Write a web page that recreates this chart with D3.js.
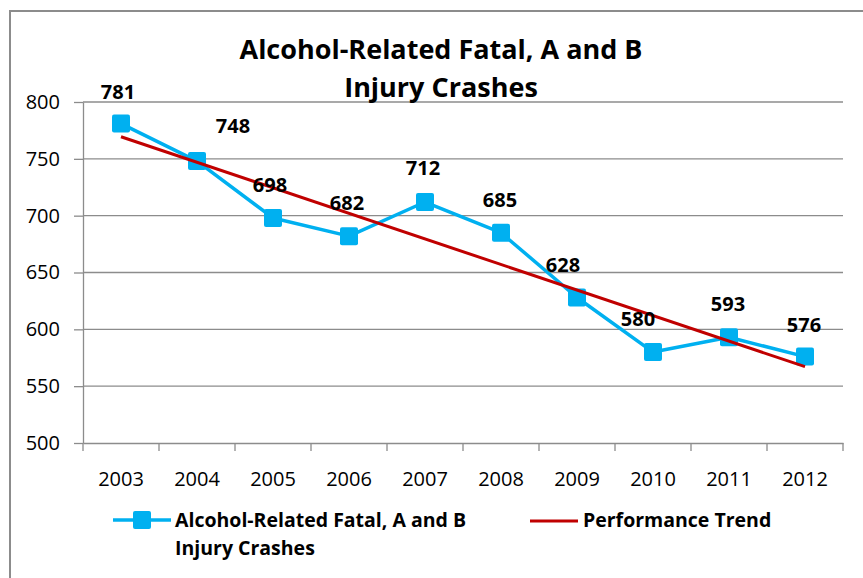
<!DOCTYPE html>
<html>
<head>
<meta charset="utf-8">
<script src="https://cdn.jsdelivr.net/npm/d3@7"></script>
<style>
  body { margin: 0; background: #fff; }
  svg { display: block; font-family: "Open Sans", "Liberation Sans", sans-serif; }
</style>
</head>
<body>
<svg id="grafico" width="863" height="578"></svg>
<script>
// dados
const anos = ['2003', '2004', '2005', '2006', '2007', '2008', '2009', '2010', '2011', '2012'];
const acidentes = [781, 748, 698, 682, 712, 685, 628, 580, 593, 576];
const yTicks = [500, 550, 600, 650, 700, 750, 800];
const tituloLinhas = ['Alcohol-Related Fatal, A and B', 'Injury Crashes'];
const nomeSerie = ['Alcohol-Related Fatal, A and B', 'Injury Crashes'];
const nomeTendencia = 'Performance Trend';
// deslocamento manual dos rótulos (como no Excel)
const rotuloDx = [-3, 36, -3, -2, -2, -1, -14, -15, -1, -1];
const rotuloDy = [-25, -28, -26, -26, -27, -26, -26, -26, -26, -25];

const azul = '#00B0F0', vermelho = '#C00000';
const svg = d3.select('#grafico');

// moldura do gráfico (continua além da imagem à direita/abaixo)
svg.append('rect')
  .attr('x', 10).attr('y', 11).attr('width', 900).attr('height', 600)
  .attr('fill', 'none').attr('stroke', '#8c8c8c').attr('stroke-width', 2);

const m = { left: 83, right: 843, top: 102, bottom: 443 };
const x = d3.scaleBand().domain(anos).range([m.left, m.right]);
const y = d3.scaleLinear().domain([500, 800]).range([m.bottom, m.top]);

// grade
svg.append('g').selectAll('line').data(yTicks.slice(1)).join('line')
  .attr('x1', m.left).attr('x2', m.right)
  .attr('y1', d => y(d)).attr('y2', d => y(d))
  .attr('stroke', '#8c8c8c').attr('stroke-width', 1.3);

// eixo y
const eixoY = svg.append('g').attr('transform', `translate(${m.left},0)`)
  .call(d3.axisLeft(y).tickValues(yTicks).tickSize(9).tickPadding(14).tickSizeOuter(0));
eixoY.select('.domain').attr('stroke', '#8c8c8c').attr('stroke-width', 1.3);
eixoY.selectAll('.tick line').attr('stroke', '#8c8c8c').attr('stroke-width', 1.3);
eixoY.selectAll('.tick text').attr('font-size', 20).attr('fill', '#000')
  .attr('font-family', 'Open Sans');

// eixo x
const eixoX = svg.append('g').attr('transform', `translate(0,${m.bottom})`)
  .call(d3.axisBottom(x).tickSize(0).tickPadding(29));
eixoX.select('.domain').attr('stroke', '#8c8c8c').attr('stroke-width', 1.3);
eixoX.selectAll('.tick text').attr('font-size', 20).attr('fill', '#000')
  .attr('font-family', 'Open Sans');
svg.append('g').selectAll('line').data(d3.range(anos.length + 1)).join('line')
  .attr('x1', i => m.left + i * x.step()).attr('x2', i => m.left + i * x.step())
  .attr('y1', m.bottom).attr('y2', m.bottom + 8)
  .attr('stroke', '#8c8c8c').attr('stroke-width', 1.3);

const cx = (d, i) => x(anos[i]) + x.bandwidth() / 2;

// série
svg.append('path').datum(acidentes)
  .attr('d', d3.line().x(cx).y(d => y(d)))
  .attr('fill', 'none').attr('stroke', azul).attr('stroke-width', 3.5)
  .attr('stroke-linejoin', 'round');

svg.append('g').selectAll('rect').data(acidentes).join('rect')
  .attr('x', (d, i) => cx(d, i) - 9).attr('y', d => y(d) - 9)
  .attr('width', 18).attr('height', 18).attr('rx', 2)
  .attr('fill', azul);

// linha de tendência (regressão linear)
const xs = d3.range(acidentes.length);
const mx = d3.mean(xs), my = d3.mean(acidentes);
const incl = d3.sum(xs, i => (i - mx) * (acidentes[i] - my)) / d3.sum(xs, i => (i - mx) ** 2);
const tend = i => my + incl * (i - mx);
svg.append('line')
  .attr('x1', cx(0, 0)).attr('y1', y(tend(0)))
  .attr('x2', cx(0, anos.length - 1)).attr('y2', y(tend(anos.length - 1)))
  .attr('stroke', vermelho).attr('stroke-width', 3);

// rótulos
svg.append('g').selectAll('text').data(acidentes).join('text')
  .attr('x', (d, i) => cx(d, i) + rotuloDx[i])
  .attr('y', (d, i) => y(d) + rotuloDy[i])
  .attr('text-anchor', 'middle').attr('font-size', 20).attr('font-weight', 'bold')
  .text(d => d);

// título
svg.append('g').selectAll('text').data(tituloLinhas).join('text')
  .attr('x', 441).attr('y', (d, i) => 59 + i * 38)
  .attr('text-anchor', 'middle').attr('font-size', 27).attr('font-weight', 'bold')
  .text(d => d);

// legenda
const leg = svg.append('g');
leg.append('line').attr('x1', 113).attr('x2', 171).attr('y1', 520).attr('y2', 520)
  .attr('stroke', azul).attr('stroke-width', 3.5);
leg.append('rect').attr('x', 133).attr('y', 511).attr('width', 18).attr('height', 18)
  .attr('rx', 2).attr('fill', azul);
leg.selectAll('text.serie').data(nomeSerie).join('text').attr('class', 'serie')
  .attr('x', 175).attr('y', (d, i) => 527 + i * 28)
  .attr('font-size', 19.5).attr('font-weight', 'bold').text(d => d);
leg.append('line').attr('x1', 530).attr('x2', 578).attr('y1', 521).attr('y2', 521)
  .attr('stroke', vermelho).attr('stroke-width', 3);
leg.append('text').attr('x', 583).attr('y', 527)
  .attr('font-size', 19.5).attr('font-weight', 'bold').text(nomeTendencia);
</script>
</body>
</html>
